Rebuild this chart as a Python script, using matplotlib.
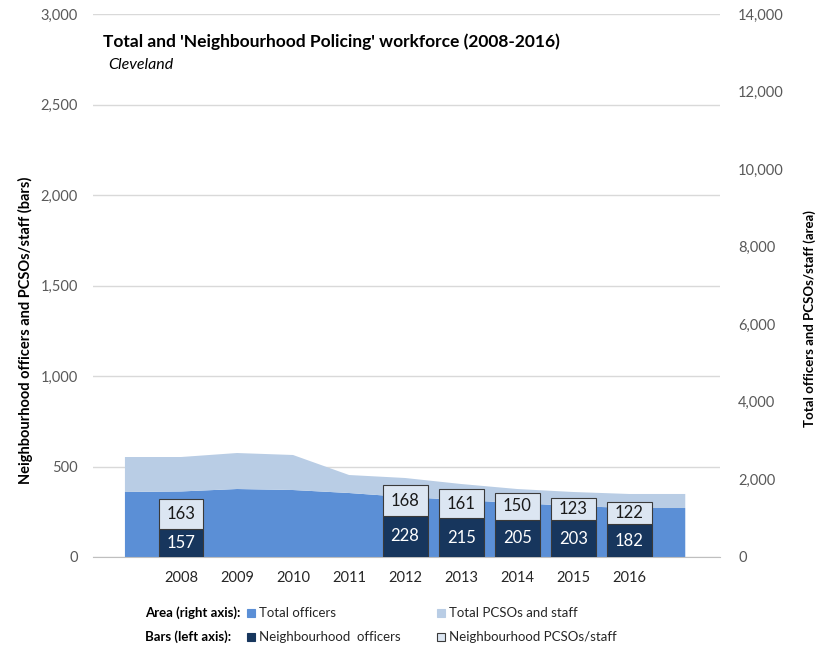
import numpy as np
import matplotlib
matplotlib.use('Agg')
from matplotlib import pyplot as plt
from matplotlib.patches import Rectangle
from matplotlib.ticker import FuncFormatter

plt.rcParams['font.family'] = ['Lato', 'DejaVu Sans']

# area series (right axis)
area_years = [2007, 2008, 2009, 2010, 2011, 2012, 2013, 2014, 2015, 2016, 2017]
total_officers = [1676, 1690, 1753, 1727, 1650, 1547, 1470, 1392, 1315, 1263, 1263]
total_staff = [902, 888, 928, 903, 464, 490, 412, 361, 361, 362, 362]

# bar series (left axis)
bar_years = [2008, 2012, 2013, 2014, 2015, 2016]
nbh_officers = [157, 228, 215, 205, 203, 182]
nbh_staff = [163, 168, 161, 150, 123, 122]
tick_years = [2008, 2009, 2010, 2011, 2012, 2013, 2014, 2015, 2016]

c_off = '#5b8fd6'
c_staff = '#b9cde5'
c_nbh_off = '#17365d'
c_nbh_staff = '#dce6f2'
grey = '#595959'

fig = plt.figure(figsize=(8.31, 6.5), dpi=100)
W, H = 831, 650
ax = fig.add_axes([93 / W, 1 - 557 / H, (720 - 93) / W, (557 - 14) / H])
ax2 = ax.twinx()
ax3 = ax.twinx()

xlim = (2006.43, 2017.62)
fmt = FuncFormatter(lambda v, p: '{:,.0f}'.format(v))

# base axis: left ticks and grid
ax.set_xlim(*xlim)
ax.set_ylim(0, 3000)
ax.set_yticks(np.arange(0, 3001, 500))
ax.yaxis.set_major_formatter(fmt)
ax.grid(axis='y', color='#d9d9d9', lw=1)
ax.set_axisbelow(True)
for s in ax.spines.values():
    s.set_visible(False)
ax.tick_params(axis='both', length=0, labelsize=10.5, colors=grey)
ax.tick_params(axis='y', pad=11)
ax.tick_params(axis='x', pad=10)
ax.set_xticks(tick_years)
ax.set_xticklabels([str(y) for y in tick_years], color='#262626')
ax.set_ylabel('Neighbourhood officers and PCSOs/staff (bars)', fontsize=10.5,
              fontweight='bold', color='black')
ax.yaxis.set_label_coords(-0.096, 0.418)

# stacked area on the right axis
ax2.stackplot(area_years, total_officers, total_staff,
              colors=[c_off, c_staff], lw=0)
ax2.set_xlim(*xlim)
ax2.set_ylim(0, 14000)
ax2.set_yticks(np.arange(0, 14001, 2000))
ax2.yaxis.set_major_formatter(fmt)
for s in ax2.spines.values():
    s.set_visible(False)
ax2.spines['bottom'].set_visible(True)
ax2.spines['bottom'].set_color('#bfbfbf')
ax2.tick_params(axis='y', length=0, labelsize=10.5, colors=grey, pad=13)
ax2.set_ylabel('Total officers and PCSOs/staff (area)', fontsize=9.5,
               fontweight='bold', color='black')
ax2.yaxis.set_label_coords(1.133, 0.44)

# stacked bars on the left scale
ax3.set_xlim(*xlim)
ax3.set_ylim(0, 3000)
ax3.axis('off')
ax3.bar(bar_years, nbh_officers, width=0.8, color=c_nbh_off,
        edgecolor='#3a3a3a', lw=0.8)
ax3.bar(bar_years, nbh_staff, width=0.8, bottom=nbh_officers,
        color=c_nbh_staff, edgecolor='#3a3a3a', lw=0.8)
for x, o, s in zip(bar_years, nbh_officers, nbh_staff):
    ax3.text(x, o / 2, str(o), ha='center', va='center', fontsize=12, color='white')
    ax3.text(x, o + s / 2, str(s), ha='center', va='center', fontsize=12, color='#1a1a1a')

# title
fig.text(103 / W, 1 - 42 / H, "Total and 'Neighbourhood Policing' workforce (2008-2016)",
         fontsize=12.5, fontweight='bold', va='center', ha='left')
fig.text(108 / W, 1 - 65 / H, 'Cleveland', fontsize=11.5, style='italic',
         va='center', ha='left')

# legend rows
def legend_item(x, y, color, label, edge=None):
    fig.patches.append(Rectangle((x / W, 1 - (y + 4) / H), 8 / W, 8 / H,
                                 transform=fig.transFigure, facecolor=color,
                                 edgecolor=edge if edge else color, lw=0.8))
    fig.text((x + 12) / W, 1 - y / H, label, fontsize=9.5, color='#262626',
             va='center', ha='left')

fig.text(145 / W, 1 - 613 / H, 'Area (right axis):', fontsize=9.5,
         fontweight='bold', va='center', ha='left')
fig.text(145 / W, 1 - 637 / H, 'Bars (left axis):', fontsize=9.5,
         fontweight='bold', va='center', ha='left')
legend_item(247, 613, c_off, 'Total officers')
legend_item(437, 613, c_staff, 'Total PCSOs and staff')
legend_item(247, 637, c_nbh_off, 'Neighbourhood  officers')
legend_item(437, 637, c_nbh_staff, 'Neighbourhood PCSOs/staff', edge='#3a3a3a')

fig.savefig('out.png', dpi=100)
